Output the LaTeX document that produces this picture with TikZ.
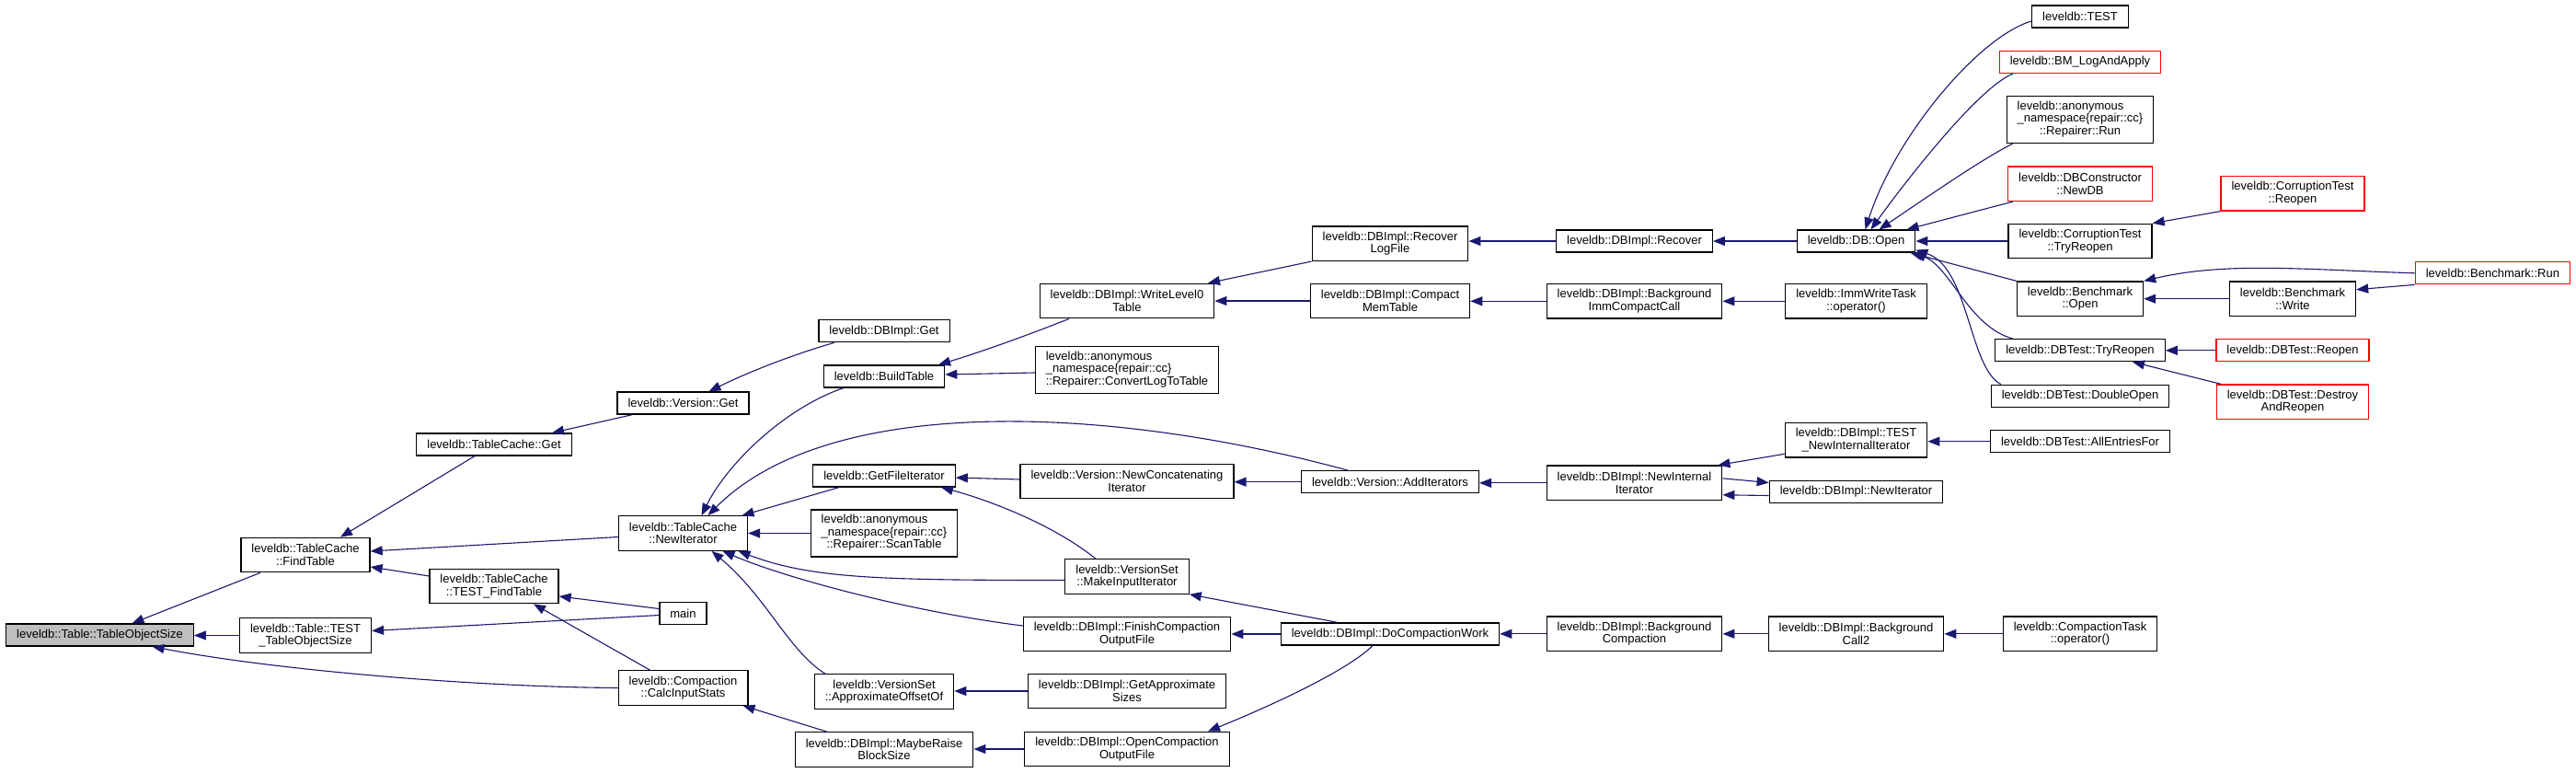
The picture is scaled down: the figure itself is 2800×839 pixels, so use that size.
\documentclass[tikz,border=0pt]{standalone}
\usepackage{fontspec}
\setmainfont{Liberation Sans}
\usepackage{tikz}
\usetikzlibrary{arrows.meta}
\definecolor{edgeblue}{RGB}{25,25,112}
\definecolor{focusgray}{RGB}{191,191,191}
\definecolor{missred}{RGB}{255,0,0}
\newcommand{\anonfn}[1]{\begin{tabular}{@{}l@{}}leveldb::anonymous\\\_namespace\{repair::cc\}\\\multicolumn{1}{@{}c@{}}{#1}\end{tabular}}

\begin{document}
\begin{tikzpicture}[x=1pt,y=-1pt,font=\fontsize{13}{13.5}\selectfont,
  fn/.style={draw=black,fill=white,line width=1.2pt,align=center,
             inner xsep=11.5pt,inner ysep=0pt,minimum height=24pt},
  two/.style={minimum height=37.5pt},
  three/.style={minimum height=51pt},
  focus/.style={fill=focusgray},
  undoc/.style={draw=missred},
  call/.style={-{Triangle[length=13pt,width=10pt]},edgeblue,line width=1.1pt}]
  \useasboundingbox (0,0) rectangle (2800,839);
  \node[fn,focus] (tos) at (108.5,690) {leveldb::Table::TableObjectSize};
  \node[fn,two] (findtab) at (332,603) {leveldb::TableCache\\::FindTable};
  \node[fn,two] (testtos) at (332,690.5) {leveldb::Table::TEST\\\_TableObjectSize};
  \node[fn] (tcget) at (537,483) {leveldb::TableCache::Get};
  \node[fn,two] (testfind) at (537,637) {leveldb::TableCache\\::TEST\_FindTable};
  \node[fn] (verget) at (742.5,438) {leveldb::Version::Get};
  \node[fn,two] (newit) at (742.5,579.5) {leveldb::TableCache\\::NewIterator};
  \node[fn] (main) at (742.5,666.5) {main};
  \node[fn,two] (calcstats) at (742.5,747.5) {leveldb::Compaction\\::CalcInputStats};
  \node[fn] (dbget) at (961,359.7) {leveldb::DBImpl::Get};
  \node[fn] (buildtab) at (961,409) {leveldb::BuildTable};
  \node[fn] (getfileit) at (961,517) {leveldb::GetFileIterator};
  \node[fn,three] (scantab) at (961,579.5) {\anonfn{::Repairer::ScanTable}};
  \node[fn,two] (approxoff) at (961,751.5) {leveldb::VersionSet\\::ApproximateOffsetOf};
  \node[fn,two] (raiseblk) at (961,814.5) {leveldb::DBImpl::MaybeRaise\\BlockSize};
  \node[fn,two] (writel0) at (1225,327) {leveldb::DBImpl::WriteLevel0\\Table};
  \node[fn,three] (convlog) at (1225,402) {\anonfn{::Repairer::ConvertLogToTable}};
  \node[fn,two] (newconcat) at (1225,523) {leveldb::Version::NewConcatenating\\Iterator};
  \node[fn,two] (mkinput) at (1225,626.5) {leveldb::VersionSet\\::MakeInputIterator};
  \node[fn,two] (finishout) at (1225,689) {leveldb::DBImpl::FinishCompaction\\OutputFile};
  \node[fn,two] (approxsz) at (1225,751) {leveldb::DBImpl::GetApproximate\\Sizes};
  \node[fn,two] (openout) at (1225,814) {leveldb::DBImpl::OpenCompaction\\OutputFile};
  \node[fn,two] (recovlog) at (1511,264.7) {leveldb::DBImpl::Recover\\LogFile};
  \node[fn,two] (compmem) at (1511,327) {leveldb::DBImpl::Compact\\MemTable};
  \node[fn] (additer) at (1511,523.7) {leveldb::Version::AddIterators};
  \node[fn] (docomp) at (1511,689) {leveldb::DBImpl::DoCompactionWork};
  \node[fn] (recover) at (1776.5,262) {leveldb::DBImpl::Recover};
  \node[fn,two] (bgimm) at (1776.5,327.3) {leveldb::DBImpl::Background\\ImmCompactCall};
  \node[fn,two] (newint) at (1776.5,524.8) {leveldb::DBImpl::NewInternal\\Iterator};
  \node[fn,two] (bgcomp) at (1776.5,688.8) {leveldb::DBImpl::Background\\Compaction};
  \node[fn] (dbopen) at (2017.5,262) {leveldb::DB::Open};
  \node[fn,two] (immtask) at (2017.5,327.3) {leveldb::ImmWriteTask\\::operator()};
  \node[fn,two] (testnii) at (2017.5,478.3) {leveldb::DBImpl::TEST\\\_NewInternalIterator};
  \node[fn] (dbnewit) at (2017.5,534.5) {leveldb::DBImpl::NewIterator};
  \node[fn,two] (bgcall2) at (2017.5,688.8) {leveldb::DBImpl::Background\\Call2};
  \node[fn] (ttest) at (2261,18) {leveldb::TEST};
  \node[fn,undoc] (bmlog) at (2261,67.5) {leveldb::BM\_LogAndApply};
  \node[fn,three] (repairrun) at (2261,130) {\anonfn{::Repairer::Run}};
  \node[fn,two,undoc] (newdb) at (2261,199.7) {leveldb::DBConstructor\\::NewDB};
  \node[fn,two] (ctryreopen) at (2261,262) {leveldb::CorruptionTest\\::TryReopen};
  \node[fn,two] (bmopen) at (2261,324.7) {leveldb::Benchmark\\::Open};
  \node[fn] (dtryreopen) at (2261,380.7) {leveldb::DBTest::TryReopen};
  \node[fn] (dblopen) at (2261,430.3) {leveldb::DBTest::DoubleOpen};
  \node[fn] (allentries) at (2261,479.7) {leveldb::DBTest::AllEntriesFor};
  \node[fn,two] (comptask) at (2261,688.8) {leveldb::CompactionTask\\::operator()};
  \node[fn,two,undoc] (creopen) at (2492,210.3) {leveldb::CorruptionTest\\::Reopen};
  \node[fn,two] (bmwrite) at (2492,324.7) {leveldb::Benchmark\\::Write};
  \node[fn,undoc] (dreopen) at (2492,380.8) {leveldb::DBTest::Reopen};
  \node[fn,two,undoc] (destroy) at (2492,436.7) {leveldb::DBTest::Destroy\\AndReopen};
  \node[fn,undoc] (bmrun) at (2709.4,296.8) {leveldb::Benchmark::Run};
  \foreach \a/\b in {testtos/tos,scantab/newit,approxsz/approxoff,openout/raiseblk,
      docomp/finishout,compmem/writel0,recover/recovlog,bgimm/compmem,additer/newconcat,
      newint/additer,bgcomp/docomp,dbopen/recover,immtask/bgimm,bgcall2/bgcomp,
      comptask/bgcall2,ctryreopen/dbopen,allentries/testnii,bmwrite/bmopen,dreopen/dtryreopen}
    \draw[call] (\a.west) -- (\a.west -| \b.east);
  \draw[call] ([xshift=-49pt]findtab.south) -- ([xshift=35pt]tos.north);
  \draw[call] (calcstats.west) .. controls +(-152,-1) and +(135,26) .. ([xshift=57pt]tos.south);
  \draw[call] ([xshift=-21pt]tcget.south) -- ([xshift=38pt]findtab.north);
  \draw[call] ([yshift=-4pt]newit.west) -- ([yshift=4pt]findtab.east);
  \draw[call] ([yshift=11pt]testfind.west) -- ([yshift=-13pt]findtab.east);
  \draw[call] ([yshift=5pt]main.west) -- ([yshift=-11pt]testfind.east);
  \draw[call] ([yshift=-2pt]main.west) -- ([yshift=5pt]testtos.east);
  \draw[call] ([xshift=-36pt]calcstats.north) -- ([xshift=43pt]testfind.south);
  \draw[call] ([xshift=-55pt]verget.south) -- ([xshift=63pt]tcget.north);
  \draw[call] ([xshift=-54pt]dbget.south) .. controls +(-45,13) and +(45,-22) .. ([xshift=28pt]verget.north);
  \draw[call] ([xshift=-44pt]buildtab.south) .. controls +(-60,20) and +(30,-60) .. ([xshift=20pt]newit.north);
  \draw[call] ([xshift=-46pt]additer.north) .. controls +(-265,-72) and +(130,-131) .. ([xshift=27pt]newit.north);
  \draw[call] ([xshift=-49pt]getfileit.south) -- ([xshift=64pt]newit.north);
  \draw[call] ([yshift=-4pt]mkinput.west) .. controls +(-200,0) and +(80,30) .. ([xshift=60pt]newit.south);
  \draw[call] ([yshift=9pt]finishout.west) .. controls +(-120,-15) and +(70,30) .. ([xshift=43pt]newit.south);
  \draw[call] ([xshift=-64pt]approxoff.north) .. controls +(-40,-25) and +(60,50) .. ([xshift=31pt]newit.south);
  \draw[call] ([xshift=-63pt]writel0.south) .. controls +(-50,20) and +(40,-12) .. ([xshift=59pt]buildtab.north);
  \draw[call] ([yshift=-3pt]convlog.west) -- ([yshift=2pt]buildtab.east);
  \draw[call] ([yshift=2pt]newconcat.west) -- ([yshift=-2pt]getfileit.east);
  \draw[call] ([xshift=-34pt]mkinput.north) .. controls +(-50,-40) and +(45,12) .. ([xshift=62pt]getfileit.south);
  \draw[call] ([xshift=-62pt]raiseblk.north) -- ([xshift=65pt]calcstats.south);
  \draw[call] ([xshift=-57pt]docomp.north) -- (mkinput.south east);
  \draw[call] ([xshift=-19pt]docomp.south) .. controls +(-30,30) and +(50,-20) .. ([xshift=88pt]openout.north);
  \draw[call] (recovlog.south west) -- ([xshift=88pt]writel0.north);
  \draw[call] ([yshift=-15pt]testnii.west) -- ([xshift=-5pt]newint.north east);
  \draw[call] ([yshift=5pt]newint.east) -- ([yshift=10pt]dbnewit.west);
  \draw[call] ([yshift=-4pt]dbnewit.west) -- ([yshift=-13pt]newint.east);
  \draw[call] ([yshift=-5pt]ttest.west) .. controls +(-58,17) and +(32,-100) .. ([xshift=10pt]dbopen.north);
  \draw[call] ([xshift=-73pt]bmlog.south) .. controls +(-38,15) and +(36,-50) .. ([xshift=16pt]dbopen.north);
  \draw[call] ([xshift=-73pt]repairrun.south) .. controls +(-30,14) and +(40,-27) .. ([xshift=25pt]dbopen.north);
  \draw[call] ([xshift=-73pt]newdb.south) -- ([xshift=55pt]dbopen.north);
  \draw[call] (bmopen.north west) -- ([xshift=-6pt]dbopen.south east);
  \draw[call] ([xshift=-73pt]dtryreopen.north) .. controls +(-48,-13) and +(40,16) .. ([xshift=-2pt]dbopen.south east);
  \draw[call] ([xshift=-86pt]dblopen.north) .. controls +(-35,-18) and +(58,19) .. ([yshift=3pt]dbopen.south east);
  \draw[call] (creopen.south west) -- (ctryreopen.north east);
  \draw[call] (bmrun.west) .. controls +(-124,-4) and +(89,-21) .. (bmopen.north east);
  \draw[call] (bmrun.south west) -- ([yshift=10pt]bmwrite.east);
  \draw[call] ([xshift=-78pt]destroy.north) -- ([xshift=57pt]dtryreopen.south);
\end{tikzpicture}
\end{document}
